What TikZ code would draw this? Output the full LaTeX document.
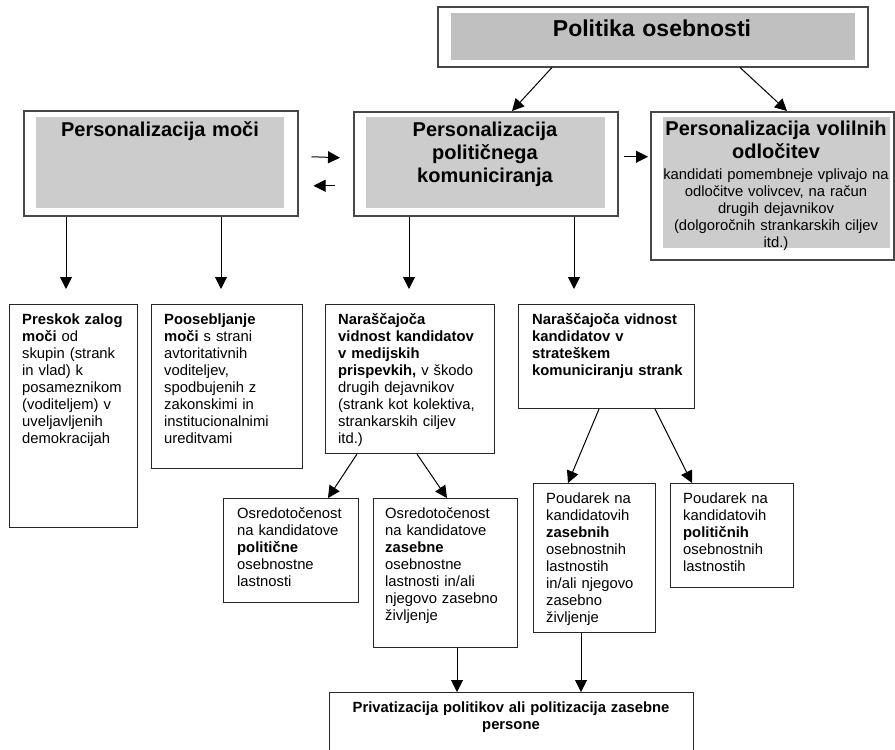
\documentclass[tikz,border=0pt]{standalone}
\usepackage{fontspec}
\setmainfont{Liberation Sans}
\usetikzlibrary{arrows.meta}
\definecolor{greyA}{RGB}{192,192,192}
\definecolor{greyB}{RGB}{204,204,204}
\newcommand{\fsbody}{\fontsize{14.8}{17}\selectfont}
\newcommand{\fstitle}{\fontsize{20}{23}\selectfont\bfseries}
\newcommand{\fsbig}{\fontsize{23}{26}\selectfont\bfseries}
\begin{document}
\begin{tikzpicture}[x=1pt,y=-1pt,
  frame/.style={draw=black!72, line width=1.5pt, anchor=north west, inner sep=0pt},
  sbox/.style={draw=black!85, line width=1.1pt, anchor=north west, inner sep=0pt},
  txt/.style={anchor=base west, inner sep=0pt, align=left, font=\fsbody, text width=#1},
  txt/.default=160pt,
  ctxt/.style={anchor=base, inner sep=0pt, align=center, text width=#1},
  ctxt/.default=240pt,
  arr/.style={-{Triangle[length=12pt,width=12pt]}, line width=1pt, black}]
\useasboundingbox (0,0) rectangle (895,750);

% grey panels
\fill[greyA] (451,13) rectangle (855,60);
\fill[greyB] (36,117) rectangle (284,208);
\fill[greyB] (366,117) rectangle (605,208);
\fill[greyB] (663,117) rectangle (890,248);

% top row frames
\node[frame, minimum width=430pt, minimum height=60pt] (top) at (437,6) {};
\node[frame, minimum width=274pt, minimum height=105pt] (moci) at (23,110) {};
\node[frame, minimum width=264pt, minimum height=104pt] (comm) at (353,111) {};
\node[frame, minimum width=243pt, minimum height=148pt] (vol) at (650,111) {};

% top row texts
\node[ctxt=400pt, font=\fsbig] (topT) at (652,36) {Politika osebnosti};
\node[ctxt=250pt, font=\fstitle] (mociT) at (160,136) {Personalizacija moči};
\node[ctxt=240pt, font=\fstitle] (commT) at (485,136) {Personalizacija\\političnega\\komuniciranja};
\node[ctxt=236pt, font=\fstitle] (volT) at (776,135) {Personalizacija volilnih\\odločitev};
\node[ctxt=236pt, font=\fsbody] (volB) at (776,179) {kandidati pomembneje vplivajo na\\odločitve volivcev, na račun\\drugih dejavnikov\\(dolgoročnih strankarskih ciljev\\itd.)};

% second level boxes
\node[sbox, minimum width=128pt, minimum height=223pt] (A) at (9,304) {};
\node[sbox, minimum width=151pt, minimum height=164pt] (B) at (151,304) {};
\node[sbox, minimum width=169pt, minimum height=149pt] (C) at (325,304) {};
\node[sbox, minimum width=176pt, minimum height=104pt] (D) at (518,304) {};
\node[sbox, minimum width=122pt, minimum height=149pt] (E) at (533,483) {};
\node[sbox, minimum width=123pt, minimum height=104pt] (F) at (670,483) {};
\node[sbox, minimum width=135pt, minimum height=104pt] (G) at (223,498) {};
\node[sbox, minimum width=144pt, minimum height=149pt] (H) at (373,498) {};
\node[sbox, minimum width=364pt, minimum height=90pt] (P) at (329,692) {};

% texts
\node[txt=115pt] (At) at (22,324) {\textbf{Preskok zalog}\\\textbf{moči} od\\skupin (strank\\in vlad) k\\posameznikom\\(voditeljem) v\\uveljavljenih\\demokracijah};
\node[txt=135pt] (Bt) at (164,324) {\textbf{Poosebljanje}\\\textbf{moči} s strani\\avtoritativnih\\voditeljev,\\spodbujenih z\\zakonskimi in\\institucionalnimi\\ureditvami};
\node[txt=155pt] (Ct) at (338,324) {\textbf{Naraščajoča}\\\textbf{vidnost kandidatov}\\\textbf{v medijskih}\\\textbf{prispevkih,} v škodo\\drugih dejavnikov\\(strank kot kolektiva,\\strankarskih ciljev\\itd.)};
\node[txt=160pt, font=\fsbody\bfseries] (Dt) at (532,324) {Naraščajoča vidnost\\kandidatov v\\strateškem\\komuniciranju strank};
\node[txt=110pt] (Et) at (546,503) {Poudarek na\\kandidatovih\\\textbf{zasebnih}\\osebnostnih\\lastnostih\\in/ali njegovo\\zasebno\\življenje};
\node[txt=110pt] (Ft) at (683,503) {Poudarek na\\kandidatovih\\\textbf{političnih}\\osebnostnih\\lastnostih};
\node[txt=120pt] (Gt) at (237,518) {Osredotočenost\\na kandidatove\\\textbf{politične}\\osebnostne\\lastnosti};
\node[txt=130pt] (Ht) at (385,518) {Osredotočenost\\na kandidatove\\\textbf{zasebne}\\osebnostne\\lastnosti in/ali\\njegovo zasebno\\življenje};
\node[ctxt=350pt, font=\fsbody\bfseries] (Pt) at (511,712) {Privatizacija politikov ali politizacija zasebne\\persone};

% connectors
\draw[arr] ([xshift=115pt]top.south west) -- ([xshift=159pt]comm.north west);
\draw[arr] ([xshift=303pt]top.south west) -- ([xshift=137pt]vol.north west);

\path ([shift={(13pt,6.5pt)}]moci.east) coordinate (m1);
\path ([shift={(-13pt,6pt)}]comm.west) coordinate (m2);
\draw[arr] (m1) -- (m2);
\path ([shift={(-18pt,-22pt)}]comm.west) coordinate (m3);
\path ([shift={(15pt,-22.5pt)}]moci.east) coordinate (m4);
\draw[arr] (m3) -- (m4);
\path ([shift={(5pt,7pt)}]comm.east) coordinate (c1);
\draw[arr] (c1) -- ([xshift=-2pt]c1 -| vol.west);

\draw[arr, shorten >=15pt] ([xshift=43pt]moci.south west) -- ([xshift=57pt]A.north west);
\draw[arr, shorten >=15pt] ([xshift=198pt]moci.south west) -- ([xshift=70pt]B.north west);
\draw[arr, shorten >=15pt] ([xshift=56pt]comm.south west) -- ([xshift=84pt]C.north west);
\draw[arr, shorten >=15pt] ([xshift=221pt]comm.south west) -- ([xshift=56pt]D.north west);

\draw[arr] ([xshift=81pt]D.south west) -- ([xshift=35pt]E.north west);
\draw[arr] ([xshift=137pt]D.south west) -- ([xshift=22pt]F.north west);
\draw[arr] ([xshift=32pt]C.south west) -- ([xshift=105pt]G.north west);
\draw[arr] ([xshift=92pt]C.south west) -- ([xshift=74pt]H.north west);
\draw[arr] ([xshift=84pt]H.south west) -- ([xshift=128pt]P.north west);
\draw[arr] ([xshift=48pt]E.south west) -- ([xshift=252pt]P.north west);
\end{tikzpicture}
\end{document}
